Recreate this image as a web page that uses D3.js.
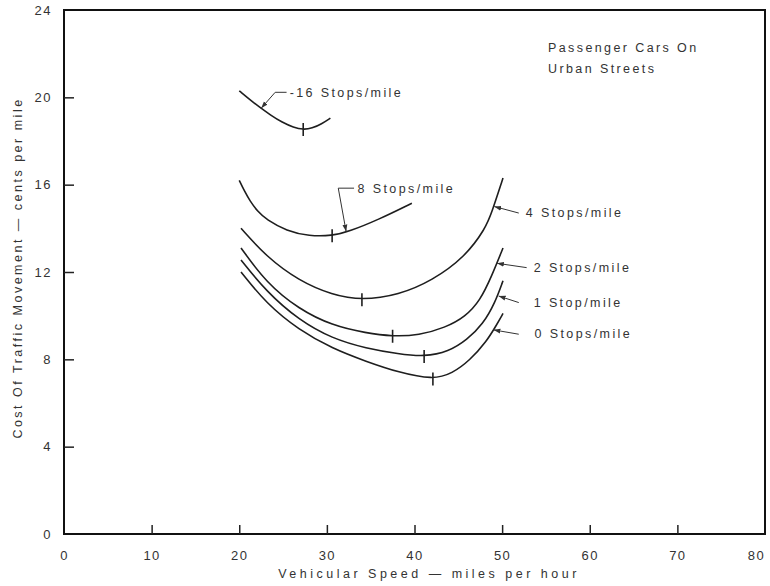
<!DOCTYPE html>
<html>
<head>
<meta charset="utf-8">
<script src="https://cdn.jsdelivr.net/npm/d3@7"></script>
<style>
  body { margin: 0; background: #fff; }
  svg text { font-family: "Liberation Sans", Arial, sans-serif; fill: #333; }
  .tick text { font-size: 13px; letter-spacing: 1.5px; }
  .lbl { font-size: 12.5px; letter-spacing: 2.4px; }
  .axisTitle { font-size: 12.5px; letter-spacing: 3.5px; }
  .curve { fill: none; stroke: #1e1e1e; stroke-width: 1.6px; }
  .lead { fill: none; stroke: #333; stroke-width: 1px; }
</style>
</head>
<body>
<script>
(function () {

    //series: speed (mph) and cost (cents/mile)
    var seriesNames = ["16 Stops/mile", "8 Stops/mile", "4 Stops/mile", "2 Stops/mile", "1 Stop/mile", "0 Stops/mile"];

    var speed16 = [20, 21.2, 22.3, 23.6, 24.9, 26.2, 27.3, 28.3, 29.4, 30.4];
    var cost16  = [20.3, 19.9, 19.55, 19.18, 18.85, 18.62, 18.52, 18.58, 18.78, 19.05];

    var speed8 = [20, 20.6, 21.2, 22.1, 23.1, 25.4, 28, 30.6, 32.5, 35.9, 39.7];
    var cost8  = [16.2, 15.7, 15.27, 14.77, 14.4, 13.88, 13.64, 13.66, 13.85, 14.4, 15.15];

    var speed4 = [20.2, 23.1, 26.8, 30.6, 34, 38.2, 42, 45.8, 48.1, 48.8, 50.1];
    var cost4  = [14.0, 12.7, 11.6, 10.95, 10.7, 10.95, 11.6, 12.7, 14.0, 14.7, 16.3];

    var speed2 = [20.2, 23.1, 26.8, 30.6, 34.5, 37.5, 40.5, 43.5, 45.8, 47.5, 48.8, 50.1];
    var cost2  = [13.1, 11.5, 10.3, 9.55, 9.2, 9.05, 9.1, 9.45, 9.95, 10.7, 11.8, 13.1];

    var speed1 = [20.2, 23.1, 26.8, 30.6, 34.5, 38.2, 41.1, 43.9, 46, 47.8, 49.2, 50.1];
    var cost1  = [12.55, 11.1, 9.8, 8.95, 8.5, 8.25, 8.12, 8.35, 8.9, 9.6, 10.6, 11.6];

    var speed0 = [20.2, 23.1, 26.8, 30.6, 34.5, 38.2, 42.1, 44.3, 46.3, 48.2, 49.4, 50.1];
    var cost0  = [12.0, 10.55, 9.35, 8.5, 7.9, 7.4, 7.07, 7.35, 7.95, 8.8, 9.6, 10.1];

    //minimum-cost marks on each curve
    var minSpeed = [27.3, 30.6, 34, 37.5, 41.1, 42.1];
    var minCost  = [18.55, 13.68, 10.75, 9.08, 8.15, 7.12];

    var xTicks = [0, 10, 20, 30, 40, 50, 60, 70, 80];
    var yTicks = [0, 4, 8, 12, 16, 20, 24];

    var width = 770, height = 586;
    var margin = {left: 64, right: 4, top: 10, bottom: 52};

    var svg = d3.select("body").append("svg")
        .attr("width", width)
        .attr("height", height);

    var x = d3.scaleLinear().domain([0, 80]).range([margin.left, width - margin.right - 1]);
    var y = d3.scaleLinear().domain([0, 24]).range([height - margin.bottom, margin.top]);

    //arrowhead
    svg.append("defs").append("marker")
        .attr("id", "arr")
        .attr("viewBox", "0 0 10 10")
        .attr("refX", 10).attr("refY", 5)
        .attr("markerWidth", 7).attr("markerHeight", 7)
        .attr("orient", "auto")
        .append("path")
        .attr("d", "M0,1.5 L10,5 L0,8.5 z")
        .attr("fill", "#333");

    //frame
    svg.append("rect")
        .attr("x", x(0)).attr("y", y(24))
        .attr("width", x(80) - x(0)).attr("height", y(0) - y(24))
        .attr("fill", "none").attr("stroke", "#111").attr("stroke-width", 2);

    //axes with inward ticks
    var xAxis = svg.append("g")
        .attr("transform", "translate(0," + y(0) + ")")
        .call(d3.axisBottom(x).tickValues(xTicks).tickSize(-9).tickPadding(17));
    xAxis.select(".domain").remove();
    xAxis.selectAll(".tick line").attr("stroke", "#222").attr("stroke-width", 1.5)
        .filter(function (d) { return d == 0 || d == 80; }).remove();
    xAxis.selectAll(".tick text")
        .filter(function (d) { return d == 80; })
        .attr("dx", -9);

    var yAxis = svg.append("g")
        .attr("transform", "translate(" + x(0) + ",0)")
        .call(d3.axisLeft(y).tickValues(yTicks).tickSize(-10).tickPadding(12));
    yAxis.select(".domain").remove();
    yAxis.selectAll(".tick line").attr("stroke", "#222").attr("stroke-width", 1.5)
        .filter(function (d) { return d == 0 || d == 24; }).remove();

    //axis titles
    svg.append("text")
        .attr("class", "axisTitle")
        .attr("x", 429).attr("y", 578)
        .attr("text-anchor", "middle")
        .text("Vehicular Speed \u2014 miles per hour");

    svg.append("text")
        .attr("class", "axisTitle")
        .attr("transform", "translate(22," + 268 + ") rotate(-90)")
        .attr("text-anchor", "middle")
        .style("letter-spacing", "2.5px")
        .text("Cost Of Traffic Movement \u2014 cents per mile");

    //curves
    var speeds = [speed16, speed8, speed4, speed2, speed1, speed0];
    var costs = [cost16, cost8, cost4, cost2, cost1, cost0];

    var line = d3.line()
        .x(function (d) { return x(d[0]); })
        .y(function (d) { return y(d[1]); })
        .curve(d3.curveBasis);

    speeds.forEach(function (s, i) {
        var pts = s.map(function (v, j) { return [v, costs[i][j]]; });
        svg.append("path")
            .attr("class", "curve")
            .attr("d", line(pts));
    });

    //minimum marks
    svg.selectAll(".minTick")
        .data(minSpeed)
        .enter()
        .append("line")
        .attr("class", "minTick")
        .attr("x1", function (d) { return x(d); })
        .attr("x2", function (d) { return x(d); })
        .attr("y1", function (d, i) { return y(minCost[i]) - 6; })
        .attr("y2", function (d, i) { return y(minCost[i]) + 7; })
        .attr("stroke", "#1e1e1e").attr("stroke-width", 1.6);

    //curve labels: text anchor and leader line in data units
    var labelAt = [[25.75, 20.0], [33.5, 15.6], [52.7, 14.5], [53.6, 12.0], [53.6, 10.4], [53.7, 8.97]];
    var leaders = [
        [[25.4, 20.23], [24.1, 20.23], [22.5, 19.5]],
        [[33.1, 15.84], [31.3, 15.84], [32.2, 13.85]],
        [[51.9, 14.7], [49.1, 15.0]],
        [[52.8, 12.2], [49.4, 12.4]],
        [[51.9, 10.6], [49.6, 10.9]],
        [[51.9, 9.15], [49.0, 9.35]]
    ];
    var labelText = ["-16 Stops/mile", "8 Stops/mile", "4 Stops/mile", "2 Stops/mile", "1 Stop/mile", "0 Stops/mile"];

    var leadLine = d3.line()
        .x(function (d) { return x(d[0]); })
        .y(function (d) { return y(d[1]); });

    leaders.forEach(function (l) {
        svg.append("path")
            .attr("class", "lead")
            .attr("d", leadLine(l))
            .attr("marker-end", "url(#arr)");
    });

    svg.selectAll(".curveLabel")
        .data(labelAt)
        .enter()
        .append("text")
        .attr("class", "lbl curveLabel")
        .attr("x", function (d) { return x(d[0]); })
        .attr("y", function (d) { return y(d[1]); })
        .text(function (d, i) { return labelText[i]; });

    //chart note
    var note = svg.append("text")
        .attr("class", "lbl")
        .attr("x", 548).attr("y", 52);
    note.append("tspan").text("Passenger Cars On");
    note.append("tspan").attr("x", 548).attr("dy", 21).text("Urban Streets");

})();
</script>
</body>
</html>
